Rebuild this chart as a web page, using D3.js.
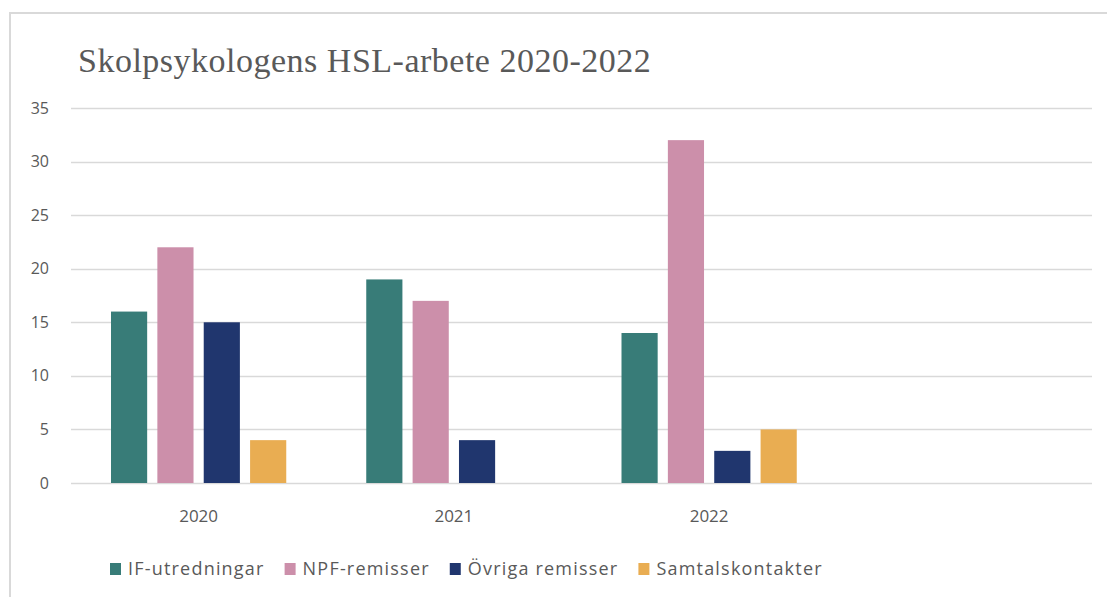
<!DOCTYPE html>
<html>
<head>
<meta charset="utf-8">
<script src="https://cdn.jsdelivr.net/npm/d3@7"></script>
<style>
  body { margin: 0; background: white; }
  svg { display: block; }
</style>
</head>
<body>
<svg></svg>
<script>
// Chart data
const years = ['2020', '2021', '2022', ''];
const seriesNames = ['IF-utredningar', 'NPF-remisser', 'Övriga remisser', 'Samtalskontakter'];
const ifUtredningar = [16, 19, 14, null];
const npfRemisser = [22, 17, 32, null];
const ovrigaRemisser = [15, 4, 3, null];
const samtalskontakter = [4, 0, 5, null];
const yTicks = [0, 5, 10, 15, 20, 25, 30, 35];
const colors = ['#387c78', '#cc8faa', '#20366e', '#e9ad52'];

const allSeries = [ifUtredningar, npfRemisser, ovrigaRemisser, samtalskontakter];

const width = 1107;
const height = 597;
const margin = { top: 108, right: 15, bottom: 114, left: 71 };
const innerW = width - margin.left - margin.right;
const innerH = height - margin.top - margin.bottom;

const svg = d3.select('svg').attr('width', width).attr('height', height);

// Frame of the chart area (only top and left edges visible)
svg.append('path')
  .attr('d', `M10,${height} L10,13 L${width},13`)
  .attr('fill', 'none')
  .attr('stroke', '#d9d9d9')
  .attr('stroke-width', 2);

// Title
svg.append('text')
  .text('Skolpsykologens HSL-arbete 2020-2022')
  .attr('x', 78)
  .attr('y', 72)
  .attr('font-family', '"Liberation Serif", "DejaVu Serif", serif')
  .attr('font-size', '34px')
  .attr('letter-spacing', '0.5px')
  .attr('fill', '#595959');

const g = svg.append('g').attr('transform', `translate(${margin.left},${margin.top})`);

// Scales
const x0 = d3.scaleBand().domain(d3.range(years.length)).range([0, innerW]).paddingInner(0).paddingOuter(0);
const x1 = d3.scaleBand().domain(d3.range(seriesNames.length))
  .range([40, x0.bandwidth() - 40]).paddingInner(0.22).paddingOuter(0);
const y = d3.scaleLinear().domain([0, 35]).range([innerH, 0]);

// Grid lines
g.append('g')
  .selectAll('line')
  .data(yTicks)
  .join('line')
  .attr('x1', 0)
  .attr('x2', innerW)
  .attr('y1', (d) => Math.round(y(d)) + 0.5)
  .attr('y2', (d) => Math.round(y(d)) + 0.5)
  .attr('stroke', '#d9d9d9')
  .attr('stroke-width', 1.5);

// Y tick labels
g.append('g')
  .selectAll('text')
  .data(yTicks)
  .join('text')
  .attr('x', -22)
  .attr('y', (d) => y(d))
  .attr('dy', '0.35em')
  .attr('text-anchor', 'end')
  .attr('font-family', '"Open Sans", sans-serif')
  .attr('font-size', '16px')
  .attr('fill', '#595959')
  .text((d) => d);

// Bars
const groups = g.append('g')
  .selectAll('g')
  .data(years.map((yr, i) => ({ yr, i })))
  .join('g')
  .attr('transform', (d) => `translate(${x0(d.i)},0)`);

groups.selectAll('rect')
  .data((d) => allSeries.map((s, k) => ({ k, v: s[d.i] })).filter((e) => e.v != null && e.v > 0))
  .join('rect')
  .attr('x', (d) => x1(d.k))
  .attr('width', x1.bandwidth())
  .attr('y', (d) => y(d.v))
  .attr('height', (d) => innerH - y(d.v))
  .attr('fill', (d) => colors[d.k]);

// X labels
g.append('g')
  .selectAll('text')
  .data(years)
  .join('text')
  .attr('x', (d, i) => x0(i) + x0.bandwidth() / 2)
  .attr('y', innerH + 39)
  .attr('text-anchor', 'middle')
  .attr('font-family', '"Open Sans", sans-serif')
  .attr('font-size', '17px')
  .attr('fill', '#595959')
  .text((d) => d);

// Legend
const legend = svg.append('g').attr('transform', 'translate(110,569)');
let lx = 0;
seriesNames.forEach((name, k) => {
  const item = legend.append('g').attr('transform', `translate(${lx},0)`);
  item.append('rect')
    .attr('x', 0)
    .attr('y', -6)
    .attr('width', 11)
    .attr('height', 12)
    .attr('fill', colors[k]);
  const t = item.append('text')
    .attr('x', 18)
    .attr('y', 0)
    .attr('dy', '0.35em')
    .attr('font-family', '"Open Sans", sans-serif')
    .attr('font-size', '18px')
    .attr('letter-spacing', '1.2px')
    .attr('fill', '#595959')
    .text(name);
  lx += 18 + t.node().getComputedTextLength() + 20;
});
</script>
</body>
</html>
